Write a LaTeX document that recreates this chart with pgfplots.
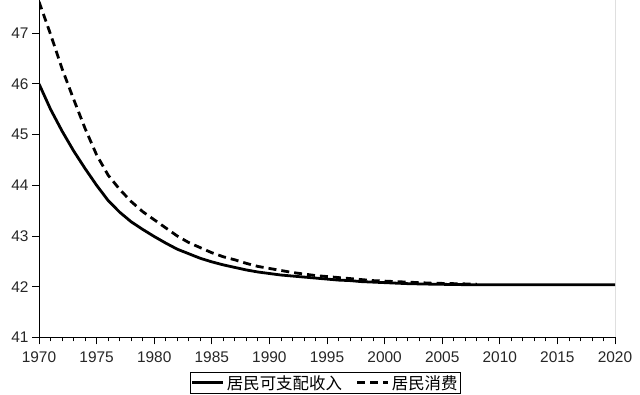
\documentclass[border=0pt]{standalone}
\usepackage{pgfplots}
\pgfplotsset{compat=1.18}
\usepackage{fontspec}
\setmainfont{Liberation Sans}
\newfontfamily\cjk{Noto Sans CJK SC}
\begin{document}
\begin{tikzpicture}
\useasboundingbox (0bp,0bp) rectangle (640bp,395bp);
\begin{axis}[
  at={(39bp,57.6bp)}, anchor=south west,
  scale only axis, width=576bp, height=337.2bp,
  xmin=1970, xmax=2020, ymin=41, ymax=47.65,
  axis lines=left, axis line style={-, line width=0.8pt, black},
  xtick={1970,1975,...,2020}, minor x tick num=4,
  ytick={41,...,47},
  tick align=outside,
  major tick length=7bp, minor tick length=4bp,
  every tick/.style={black, line width=0.8pt},
  /pgf/number format/assume math mode=true,
  /pgf/number format/1000 sep={},
  tick label style={font=\fontsize{15.5}{17}\selectfont, text=black!85},
  x tick label style={yshift=-3.5bp},
  legend style={at={(0.497,-0.1026)}, anchor=north, legend columns=2,
    draw=black, font=\cjk\fontsize{16.5}{18}\selectfont, inner sep=1pt,
    /tikz/every even column/.append style={column sep=12pt}},
  legend image code/.code={\draw[#1] (0cm,0cm) -- (1.1cm,0cm);},
]
\addplot[black, line width=2.8pt, line join=round] coordinates {
(1970,46.00) (1971,45.50) (1972,45.07) (1973,44.68) (1974,44.33) (1975,44.00)
(1976,43.70) (1977,43.47) (1978,43.28) (1979,43.13) (1980,42.99) (1981,42.86)
(1982,42.74) (1983,42.65) (1984,42.56) (1985,42.49) (1986,42.43) (1987,42.38)
(1988,42.33) (1989,42.29) (1990,42.26) (1991,42.23) (1992,42.21) (1993,42.19)
(1994,42.17) (1995,42.15) (1996,42.13) (1997,42.12) (1998,42.10) (1999,42.09)
(2000,42.08) (2001,42.07) (2002,42.06) (2004,42.05) (2007,42.04) (2020,42.04)
};
\addlegendentry{居民可支配收入}
\addplot[black, line width=2.8pt, line join=round, dash pattern=on 8bp off 5bp] coordinates {
(1970,47.62) (1971,46.98) (1972,46.30) (1973,45.70) (1974,45.12) (1975,44.60)
(1976,44.20) (1977,43.92) (1978,43.68) (1979,43.48) (1980,43.32) (1981,43.16)
(1982,43.00) (1983,42.87) (1984,42.77) (1985,42.67) (1986,42.59) (1987,42.53)
(1988,42.46) (1989,42.40) (1990,42.36) (1991,42.32) (1992,42.28) (1993,42.25)
(1994,42.22) (1995,42.20) (1996,42.18) (1997,42.16) (1998,42.14) (1999,42.12)
(2000,42.11) (2002,42.09) (2004,42.07) (2006,42.06) (2008,42.05)
};
\addlegendentry{居民消费}
\draw[black, line width=0.8pt] (rel axis cs:1,0) -- (rel axis cs:1,1);
\end{axis}
\end{tikzpicture}
\end{document}
